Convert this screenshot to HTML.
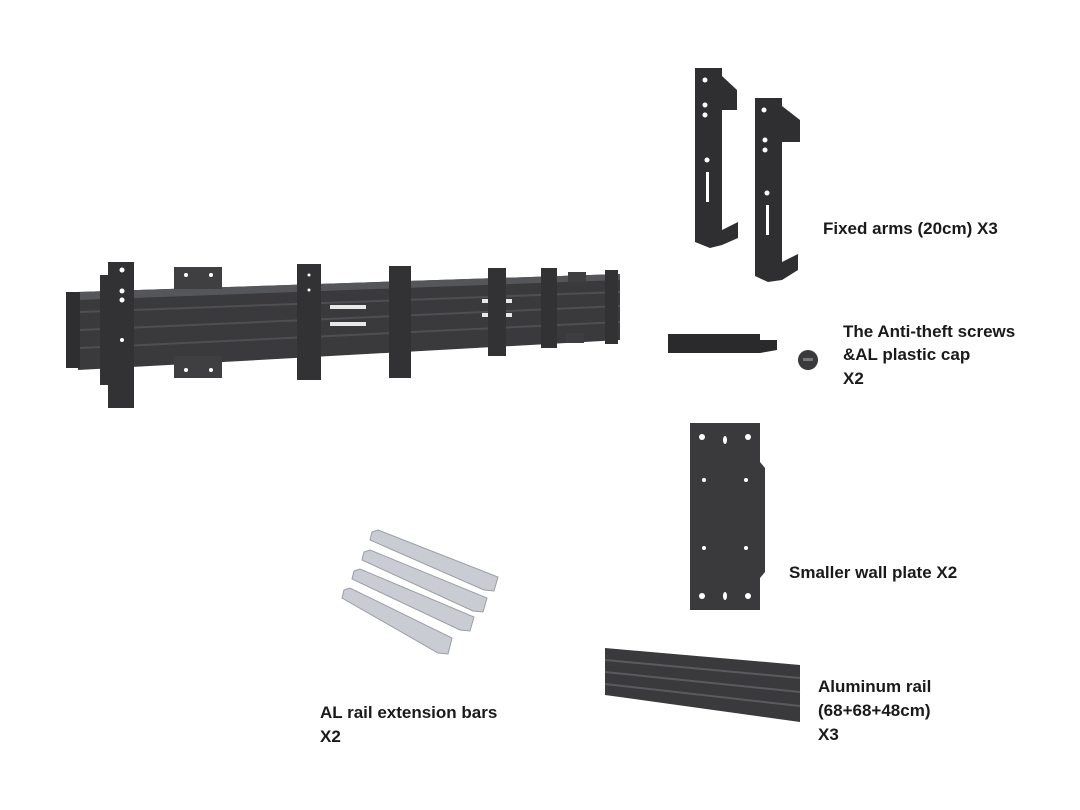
<!DOCTYPE html>
<html><head><meta charset="utf-8"><style>
html,body{margin:0;padding:0;background:#fff;}
svg{display:block}
text{font-family:"Liberation Sans",sans-serif;font-weight:bold;font-size:17px;fill:#1a1a1a;}
</style></head><body>
<svg width="1080" height="810" viewBox="0 0 1080 810">
<!-- main rail -->
<polygon points="78,292 620,274 620,340 78,370" fill="#3a3a3c"/>
<polygon points="78,292 620,274 620,280 78,300" fill="#55565a"/>
<g stroke="#4e4f52" stroke-width="2">
<line x1="80" y1="312" x2="620" y2="292"/>
<line x1="80" y1="330" x2="620" y2="306"/>
<line x1="80" y1="348" x2="620" y2="322"/>
</g>
<rect x="66" y="292" width="14" height="76" fill="#2e2e30"/>
<!-- white extension glimpses -->
<g fill="#e8e8e8"><rect x="330" y="305" width="36" height="4"/><rect x="330" y="322" width="36" height="4"/><rect x="482" y="299" width="30" height="4"/><rect x="482" y="313" width="30" height="4"/></g>
<!-- wall plates -->
<rect x="174" y="267" width="48" height="22" fill="#3f3f42"/>
<rect x="174" y="356" width="48" height="22" fill="#3f3f42"/>
<rect x="568" y="272" width="18" height="10" fill="#3f3f42"/>
<rect x="566" y="333" width="18" height="10" fill="#3f3f42"/>
<!-- brackets -->
<g fill="#323234">
<rect x="108" y="262" width="26" height="146"/>
<rect x="100" y="275" width="10" height="110"/>
<rect x="297" y="264" width="24" height="116"/>
<rect x="389" y="266" width="22" height="112"/>
<rect x="488" y="268" width="18" height="88"/>
<rect x="541" y="268" width="16" height="80"/>
<rect x="605" y="270" width="13" height="74"/>
</g>
<g fill="#fff"><circle cx="122" cy="270" r="2.5"/><circle cx="122" cy="291" r="2.5"/><circle cx="122" cy="300" r="2.5"/><circle cx="122" cy="340" r="2"/><circle cx="309" cy="275" r="1.5"/><circle cx="309" cy="290" r="1.5"/><circle cx="186" cy="275" r="2"/><circle cx="211" cy="275" r="2"/><circle cx="186" cy="370" r="2"/><circle cx="211" cy="370" r="2"/></g>
<!-- fixed arms -->
<polygon points="695,68 722,68 722,76 737,90 737,110 722,110 722,230 738,222 738,238 722,245 710,248 695,242" fill="#2f2f31"/>
<polygon points="755,98 782,98 782,106 800,120 800,142 782,142 782,262 798,254 798,270 782,280 768,282 755,276" fill="#2f2f31"/>
<g fill="#fff"><circle cx="705" cy="80" r="2.5"/><circle cx="705" cy="105" r="2.5"/><circle cx="705" cy="115" r="2.5"/><circle cx="707" cy="160" r="2.5"/><rect x="706" y="172" width="3" height="30"/><circle cx="764" cy="110" r="2.5"/><circle cx="765" cy="140" r="2.5"/><circle cx="765" cy="150" r="2.5"/><circle cx="767" cy="193" r="2.5"/><rect x="766" y="205" width="3" height="30"/></g>
<!-- cap and screw -->
<polygon points="668,334 760,334 760,340 777,340 777,350 760,353 668,353 668,344" fill="#2a2a2c"/>
<circle cx="808" cy="360" r="10" fill="#3a3a3c"/><rect x="803" y="358" width="10" height="3" fill="#777"/>
<!-- small wall plate -->
<polygon points="690,423 760,423 760,462 765,468 765,572 760,578 760,610 690,610" fill="#3a3a3d"/>
<g fill="#fff"><circle cx="702" cy="437" r="3"/><circle cx="748" cy="437" r="3"/><ellipse cx="725" cy="440" rx="2" ry="4"/><circle cx="702" cy="596" r="3"/><circle cx="748" cy="596" r="3"/><ellipse cx="725" cy="596" rx="2" ry="4"/><circle cx="704" cy="480" r="2"/><circle cx="746" cy="480" r="2"/><circle cx="704" cy="548" r="2"/><circle cx="746" cy="548" r="2"/></g>
<!-- aluminum rail -->
<polygon points="605,648 800,665 800,722 605,695" fill="#3a3a3c"/>
<g stroke="#5a5b5e" stroke-width="2"><line x1="605" y1="660" x2="800" y2="678"/><line x1="605" y1="672" x2="800" y2="692"/><line x1="605" y1="684" x2="800" y2="706"/></g>
<!-- extension bars -->
<g fill="#c9ccd2" stroke="#9a9ea6" stroke-width="1">
<polygon points="372,532 378,530 498,577 494,591 484,590 370,540"/>
<polygon points="364,552 370,550 487,598 483,612 473,611 362,560"/>
<polygon points="354,571 360,569 474,617 470,631 460,630 352,579"/>
<polygon points="344,590 350,588 452,638 448,654 438,653 342,598"/>
</g>
<text x="823" y="234">Fixed arms (20cm) X3</text>
<text x="843" y="337">The Anti-theft screws</text>
<text x="843" y="360">&amp;AL plastic cap</text>
<text x="843" y="384">X2</text>
<text x="789" y="578">Smaller wall plate X2</text>
<text x="818" y="692">Aluminum rail</text>
<text x="818" y="716">(68+68+48cm)</text>
<text x="818" y="740">X3</text>
<text x="320" y="718">AL rail extension bars</text>
<text x="320" y="742">X2</text>
</svg>
</body></html>
